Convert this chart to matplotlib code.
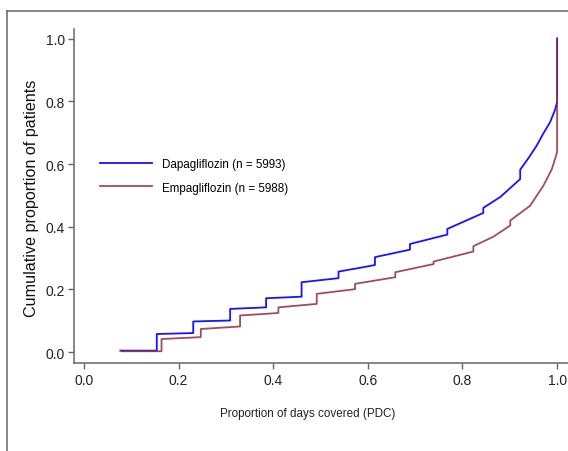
import matplotlib
matplotlib.use("Agg")
import matplotlib.pyplot as plt
from matplotlib.lines import Line2D

plt.rcParams['font.family'] = ['Liberation Sans', 'DejaVu Sans']

# Cumulative curves (PDC, cumulative proportion)
dapa_x = [0.077, 0.154, 0.154, 0.231, 0.231, 0.309, 0.309, 0.385, 0.385, 0.46, 0.46,
          0.538, 0.538, 0.583, 0.615, 0.615, 0.689, 0.689, 0.768, 0.768, 0.844, 0.844,
          0.88, 0.922, 0.922, 0.94, 0.957, 0.97, 0.985, 0.995, 0.999, 1.0, 1.0]
dapa_y = [0.005, 0.005, 0.058, 0.061, 0.098, 0.101, 0.138, 0.143, 0.172, 0.177, 0.223,
          0.236, 0.257, 0.269, 0.278, 0.303, 0.327, 0.345, 0.375, 0.393, 0.444, 0.46,
          0.495, 0.552, 0.582, 0.62, 0.659, 0.695, 0.733, 0.77, 0.792, 0.80, 1.0]

empa_x = [0.08, 0.164, 0.164, 0.247, 0.247, 0.33, 0.33, 0.411, 0.411, 0.492, 0.492,
          0.573, 0.573, 0.658, 0.658, 0.739, 0.739, 0.823, 0.823, 0.865, 0.901, 0.901,
          0.943, 0.971, 0.989, 1.0, 1.0]
empa_y = [0.003, 0.003, 0.042, 0.048, 0.074, 0.082, 0.117, 0.125, 0.143, 0.154, 0.186,
          0.201, 0.218, 0.239, 0.255, 0.281, 0.289, 0.321, 0.338, 0.368, 0.404, 0.42,
          0.467, 0.531, 0.584, 0.638, 1.0]

labels = ["Dapagliflozin (n = 5993)", "Empagliflozin (n = 5988)"]
ticks = [0.0, 0.2, 0.4, 0.6, 0.8, 1.0]

fig = plt.figure(figsize=(5.68, 4.52), dpi=100)
ax = fig.add_axes([0.131, 0.195, 0.869, 0.739])

ax.plot(dapa_x, dapa_y, color='#1414ff', lw=1.3, label=labels[0])
ax.plot(empa_x, empa_y, color='#8e2f3a', lw=1.3, alpha=0.85, label=labels[1])

ax.set_xlim(-0.0201, 1.023)
ax.set_ylim(-0.034, 1.031)
ax.set_xticks(ticks)
ax.set_yticks(ticks)
ax.set_xticklabels([f"{t:.1f}" for t in ticks])
ax.set_yticklabels([f"{t:.1f}" for t in ticks])
ax.tick_params(direction='out', length=4, width=1, color='#666666',
               labelsize=10, labelcolor='#222222', pad=3)

for s in ['top', 'right']:
    ax.spines[s].set_visible(False)
for s in ['left', 'bottom']:
    ax.spines[s].set_color('#666666')
    ax.spines[s].set_linewidth(1.1)

ax.set_ylabel("Cumulative proportion of patients", fontsize=11.6, color='#111111')
ax.yaxis.set_label_coords(-0.072, 0.497)
ax.set_xlabel("Proportion of days covered (PDC)", fontsize=8.4, color='#222222')
ax.xaxis.set_label_coords(0.473, -0.133)

leg = ax.legend(loc='upper left', bbox_to_anchor=(0.03, 0.645), frameon=False,
                fontsize=8.4, handlelength=4.5, handletextpad=0.85, labelspacing=1.0)

# outer frame (only top and left edges visible)
fx, fy = 7 / 568, (452 - 12) / 452
fig.add_artist(Line2D([fx, fx], [0, fy], transform=fig.transFigure, color='#666666', lw=1.1))
fig.add_artist(Line2D([fx, 1], [fy, fy], transform=fig.transFigure, color='#666666', lw=1.1))

fig.savefig("out.png", dpi=100)
